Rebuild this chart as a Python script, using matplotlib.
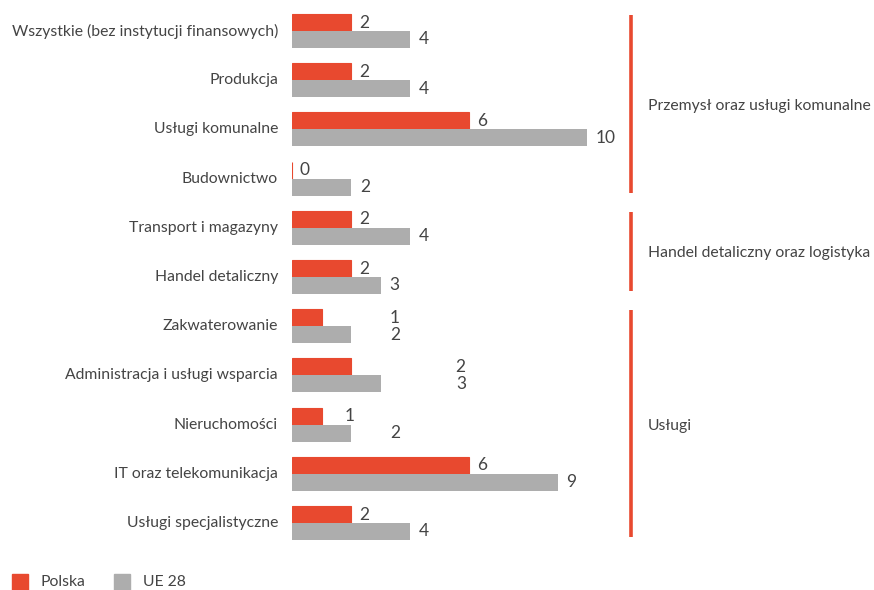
import matplotlib
matplotlib.use("Agg")
import matplotlib.pyplot as plt
from matplotlib.patches import Rectangle
from matplotlib.transforms import offset_copy

plt.rcParams['font.family'] = ['Lato', 'DejaVu Sans']

categories = [
    "Wszystkie (bez instytucji finansowych)",
    "Produkcja",
    "Usługi komunalne",
    "Budownictwo",
    "Transport i magazyny",
    "Handel detaliczny",
    "Zakwaterowanie",
    "Administracja i usługi wsparcia",
    "Nieruchomości",
    "IT oraz telekomunikacja",
    "Usługi specjalistyczne",
]
polska = [2, 2, 6, 0, 2, 2, 1, 2, 1, 6, 2]
ue28 = [4, 4, 10, 2, 4, 3, 2, 3, 2, 9, 4]
series_names = ["Polska", "UE 28"]

groups = ["Przemysł oraz usługi komunalne", "Handel detaliczny oraz logistyka", "Usługi"]
group_rows = [(0, 3), (4, 5), (6, 10)]

# extra horizontal shift (pixels) of a few value labels
extra_pl = [0, 0, 0, 0, 0, 0, 60, 96, 15, 0, 0]
extra_ue = [0, 0, 0, 0, 0, 0, 30, 67, 30, 0, 0]

RED = "#E8492F"
GREY = "#ADADAD"
TEXT = "#444444"

W, H, DPI = 874, 590, 100
fig = plt.figure(figsize=(W / DPI, H / DPI), dpi=DPI)

x0_px = 292
px_per_unit = 29.5
row0_px = 31
row_px = 49.2
ax = fig.add_axes([x0_px / W, 0, 1 - x0_px / W, 1])
ax.set_xlim(0, (W - x0_px) / px_per_unit)
ax.set_ylim((H - row0_px) / row_px, -row0_px / row_px)
ax.axis("off")

bh = 17 / row_px
ys = list(range(len(categories)))
ax.barh([y - bh / 2 for y in ys], polska, height=bh, color=RED,
        edgecolor=RED, linewidth=0.8)
ax.barh([y + bh / 2 for y in ys], ue28, height=bh, color=GREY,
        edgecolor=GREY, linewidth=0)

fs_val = 12.5
for y, v, e in zip(ys, polska, extra_pl):
    tr = offset_copy(ax.transData, fig=fig, x=(8 + e) * 72 / DPI, y=0, units="points")
    ax.text(v, y - bh / 2, str(v), transform=tr, ha="left", va="center",
            fontsize=fs_val, color=TEXT)
for y, v, e in zip(ys, ue28, extra_ue):
    tr = offset_copy(ax.transData, fig=fig, x=(9 + e) * 72 / DPI, y=0, units="points")
    ax.text(v, y + bh / 2, str(v), transform=tr, ha="left", va="center",
            fontsize=fs_val, color=TEXT)

# category labels
lab_tr = offset_copy(ax.transData, fig=fig, x=-14 * 72 / DPI, y=0, units="points")
for y, c in zip(ys, categories):
    ax.text(0, y, c, transform=lab_tr, ha="right", va="center",
            fontsize=11.3, color=TEXT)

# group brackets
gx = (631 - x0_px) / px_per_unit
for name, (a, b) in zip(groups, group_rows):
    ax.plot([gx, gx], [a - bh + 0.02, b + bh - 0.06], color=RED, lw=2.6,
            solid_capstyle="butt", clip_on=False)
    ax.text((648 - x0_px) / px_per_unit, (a + b) / 2 + 0.02, name, ha="left",
            va="center", fontsize=11.3, color=TEXT)

# legend
leg_y = 1 - 582 / H
for i, (name, col) in enumerate(zip(series_names, [RED, GREY])):
    lx = 12 + 102 * i
    fig.patches.append(Rectangle((lx / W, 1 - 590 / H), 16 / W, 16 / H,
                                 transform=fig.transFigure, color=col))
    fig.text((lx + 29) / W, leg_y, name, ha="left", va="center",
             fontsize=11.3, color=TEXT)

fig.savefig("out.png", dpi=DPI)
